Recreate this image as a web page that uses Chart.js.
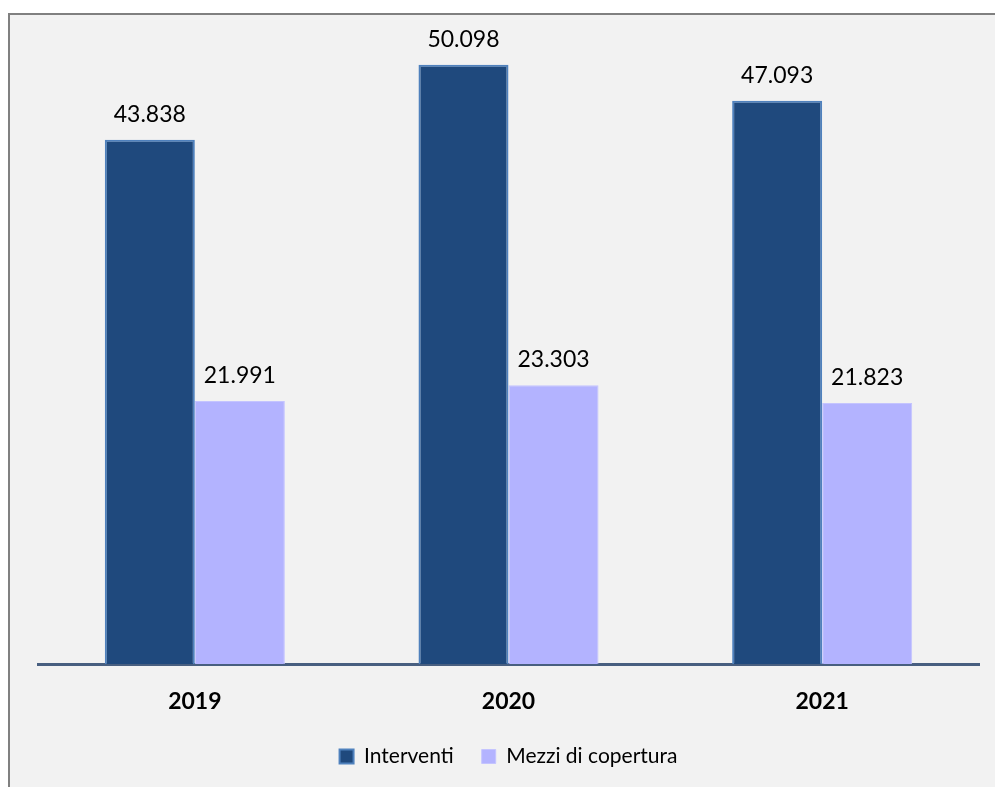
<!DOCTYPE html>
<html>
<head>
<meta charset="utf-8">
<script src="https://cdn.jsdelivr.net/npm/chart.js@4.4.0/dist/chart.umd.min.js"></script>
<style>
  html, body { margin: 0; padding: 0; background: #ffffff; }
  #wrap {
    position: absolute; left: 8px; top: 13px;
    width: 985px; height: 772px;
    background: #f2f2f2;
    border-left: 2px solid #808080;
    border-top: 2px solid #808080;
  }
  canvas { display: block; }
</style>
</head>
<body>
<div id="wrap"><canvas id="barChart" width="985" height="772"></canvas></div>
<script>
const years = ['2019', '2020', '2021'];
const interventi = [43838, 50098, 47093];
const mezziCopertura = [21991, 23303, 21823];

function formatIt(v) {
    return String(v).replace(/\B(?=(\d{3})+(?!\d))/g, '.');
}

// etichette dei valori sopra le barre
const valueLabels = {
    id: 'valueLabels',
    afterDatasetsDraw: function(chart) {
        const ctx = chart.ctx;
        ctx.save();
        ctx.font = '23px Lato';
        ctx.fillStyle = '#000000';
        ctx.textAlign = 'center';
        ctx.textBaseline = 'alphabetic';
        chart.data.datasets.forEach(function(ds, i) {
            chart.getDatasetMeta(i).data.forEach(function(bar, j) {
                ctx.fillText(formatIt(ds.data[j]), bar.x, bar.y - 18);
            });
        });
        ctx.restore();
    }
};

var ctx = document.getElementById('barChart').getContext('2d');

var barChart = new Chart(ctx, {
    type: 'bar',
    data: {
        labels: years,
        datasets: [{
            label: 'Interventi',
            data: interventi,
            backgroundColor: '#1f497d',
            borderColor: '#4f81bd',
            borderWidth: 2,
            borderSkipped: 'bottom'
        }, {
            label: 'Mezzi di copertura',
            data: mezziCopertura,
            backgroundColor: '#b3b3ff',
            borderColor: '#c4c4ff',
            borderWidth: 1,
            borderSkipped: 'bottom'
        }]
    },
    options: {
        responsive: false,
        animation: false,
        layout: {
            padding: { top: 27, left: 28, right: 16, bottom: 10 }
        },
        datasets: {
            bar: { categoryPercentage: 0.574, barPercentage: 1 }
        },
        scales: {
            x: {
                grid: { display: false, drawTicks: false },
                border: { display: true, color: '#485f80', width: 3 },
                ticks: {
                    padding: 24,
                    color: '#000000',
                    font: { family: 'Lato', size: 23, weight: 'bold' }
                },
                afterFit: function(scale) { scale.height = 54; }
            },
            y: {
                display: false,
                min: 0,
                max: 52000
            }
        },
        plugins: {
            legend: {
                position: 'bottom',
                labels: {
                    boxWidth: 14,
                    boxHeight: 14,
                    padding: 28,
                    color: '#000000',
                    font: { family: 'Lato', size: 21 }
                }
            },
            tooltip: { enabled: false }
        }
    },
    plugins: [valueLabels]
});
</script>
</body>
</html>
